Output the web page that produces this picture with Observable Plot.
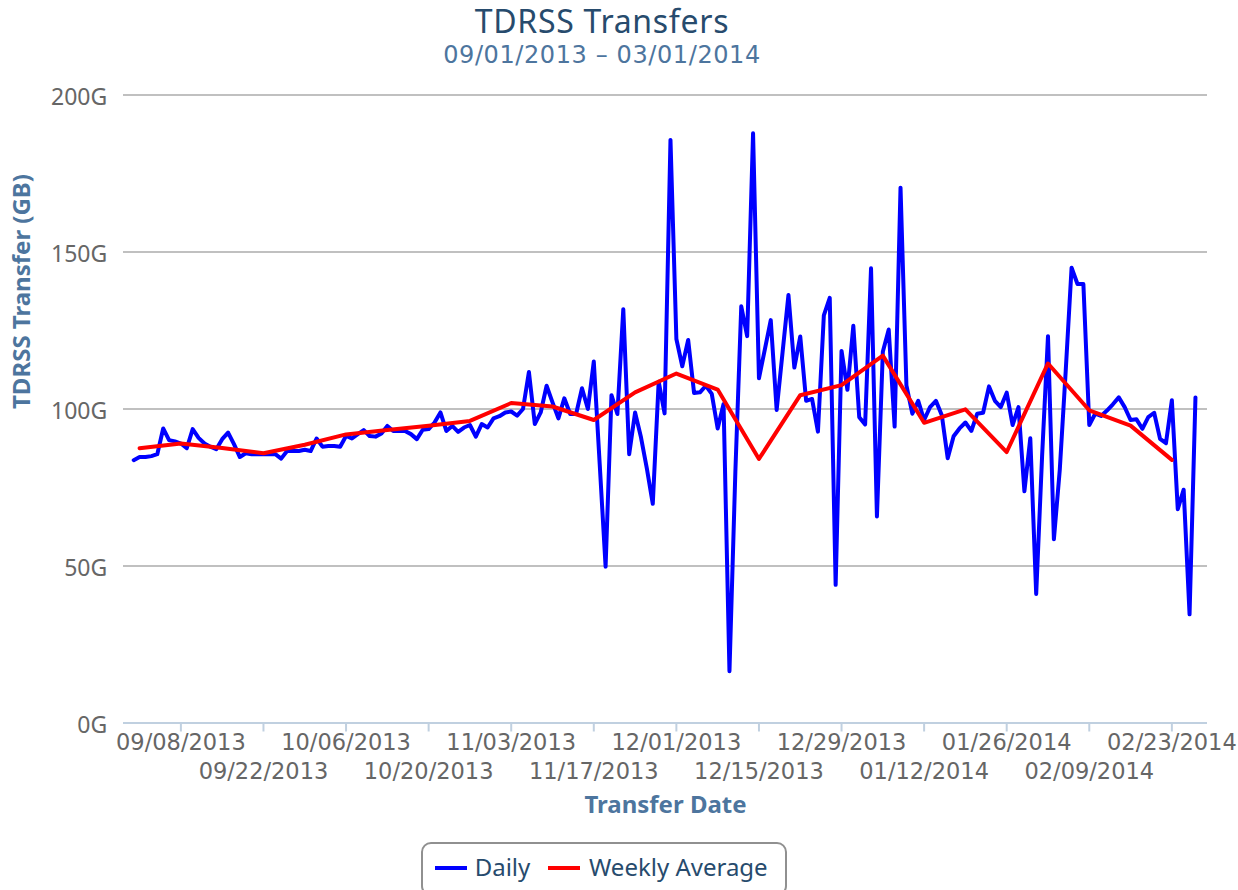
<!DOCTYPE html>
<html>
<head>
<meta charset="utf-8">
<script src="https://cdn.jsdelivr.net/npm/d3@7"></script>
<script src="https://cdn.jsdelivr.net/npm/@observablehq/plot@0.6"></script>
<style>
  html, body { margin: 0; padding: 0; background: #ffffff; }
  #wrap { position: relative; width: 1238px; height: 890px; overflow: hidden; font-family: "Noto Sans", sans-serif; }
  .abs { position: absolute; white-space: nowrap; }
  #title { left: 0; width: 1204px; text-align: center; top: 4.6px; font-size: 32px; line-height: 32px; color: #274b6d; letter-spacing: 0.7px; }
  #subtitle { left: 0; width: 1204px; text-align: center; top: 42.7px; font-family: "DejaVu Sans", sans-serif; font-size: 24px; line-height: 24px; color: #4d759e; letter-spacing: 0.6px; }
  #chart { left: 0; top: 70px; }
  #legendBox { left: 420.7px; top: 841.7px; width: 366.6px; height: 54px; box-sizing: border-box; border: 2px solid #909090; border-radius: 10px; background: #fff; }
  .sw { height: 4px; width: 32px; top: 865.7px; }
  .lt { font-size: 24px; line-height: 24px; color: #274b6d; top: 855.4px; }
</style>
</head>
<body>
<div id="wrap">
  <div id="title" class="abs">TDRSS Transfers</div>
  <div id="subtitle" class="abs">09/01/2013 – 03/01/2014</div>
  <div id="chart" class="abs"></div>
  <div id="legendBox" class="abs"></div>
  <div class="abs sw" style="left:435px;background:#0000ff"></div>
  <div class="abs lt" style="left:474.7px">Daily</div>
  <div class="abs sw" style="left:548.3px;background:#ff0000"></div>
  <div class="abs lt" style="left:589px">Weekly Average</div>
</div>
<script>
// ---- data ----
const dailyStart = "2013-08-31";
const dailyValues = [
  83.7,84.7,84.7,85,85.6,93.8,90.1,89.7,89,87.5,
  93.6,90.8,89,88,87.2,90.4,92.5,88.8,84.7,85.9,
  85.6,85.6,85.6,85.6,85.6,84.2,86.6,86.6,86.6,87,
  86.6,90.6,88,88.2,88.2,88,91.4,90.6,92,93.3,
  91.4,91.2,92.2,94.6,93,93,93,92,90.4,93.4,
  93.6,95.7,98.9,93,94.6,92.7,94.1,94.9,91.2,95.2,
  94.1,97,97.7,98.9,99.2,97.9,100,111.8,95.2,98.9,
  107.4,102.1,97,103.4,98.4,98.4,106.6,100,115.1,82.5,
  49.8,104.4,98.4,131.8,85.6,98.9,91,81,69.8,108.7,
  98.6,185.7,122.3,113.6,122,105.1,105.3,107.4,104.8,93.8,
  101.6,16.5,80,132.7,123.2,187.8,109.8,119,128.3,99.7,
  118,136.3,113.2,123.1,102.6,103.2,92.8,129.8,135.4,44,
  118.5,106.1,126.5,97.4,95.1,144.8,65.8,118.2,125.3,94.4,
  170.5,107.5,98.5,102.6,96.5,100.6,102.6,98,84.3,91.3,
  93.8,95.7,93,98.5,98.8,107.2,102.6,100.6,105.2,94.9,
  100.6,73.8,90.7,41.1,85,123.2,58.5,80.7,112,145,
  139.8,139.8,94.9,98.5,97.8,99.5,101.5,103.7,100.6,96.5,
  96.7,93.7,97.4,98.8,90.5,89.1,102.8,68.1,74.3,34.6,
  103.7
];
const weeklyStart = "2013-09-01";
const weeklyValues = [
  87.5,89.0,87.6,85.9,88.6,91.9,93.3,94.7,96.2,101.9,
  100.8,96.5,105.3,111.3,106.2,84.1,104.4,107.6,117.0,95.6,
  99.9,86.3,114.5,99.6,94.7,83.8
];
const xTickDates = [
  "2013-09-08","2013-09-22","2013-10-06","2013-10-20","2013-11-03","2013-11-17",
  "2013-12-01","2013-12-15","2013-12-29","2014-01-12","2014-01-26","2014-02-09","2014-02-23"
];
const yTicks = [0, 50, 100, 150, 200];
const xDomain = ["2013-08-29T06:30Z", "2014-03-01T01:00Z"];

// ---- build rows ----
const d0 = new Date(dailyStart);
const w0 = new Date(weeklyStart);
const daily = dailyValues.map((v, i) => ({date: d3.utcDay.offset(d0, i), value: v}));
const weekly = weeklyValues.map((v, i) => ({date: d3.utcDay.offset(w0, 7 * i), value: v}));
const ticks = xTickDates.map(s => new Date(s));
const evenTicks = ticks.filter((t, i) => i % 2 === 0);
const oddTicks = ticks.filter((t, i) => i % 2 === 1);
const fmt = d3.utcFormat("%m/%d/%Y");

const xAxisCommon = {
  anchor: "bottom", tickSize: 9, stroke: "#C0D0E0", strokeWidth: 2, fill: "#666666",
  fontSize: 22.5, fontFamily: "DejaVu Sans, sans-serif", tickFormat: fmt, label: null
};

const chart = Plot.plot({
  width: 1238,
  height: 760,
  marginLeft: 123,
  marginRight: 31,
  marginTop: 24.5,
  marginBottom: 107.5,
  style: {fontFamily: "'Noto Sans', sans-serif", fontSize: "22px", background: "transparent", overflow: "visible"},
  x: {type: "utc", domain: xDomain.map(s => new Date(s)), label: null},
  y: {domain: [0, 200], label: null},
  marks: [
    Plot.gridY(yTicks.filter(v => v > 0), {stroke: "#C0C0C0", strokeOpacity: 1, strokeWidth: 2}),
    Plot.ruleY([0], {stroke: "#C0D0E0", strokeWidth: 2}),
    Plot.axisX(evenTicks, {...xAxisCommon, tickPadding: 1.8}),
    Plot.axisX(oddTicks, {...xAxisCommon, tickPadding: 31.5}),
    Plot.axisY(yTicks, {anchor: "left", tickSize: 0, tickPadding: 16.3, fill: "#666666", fontSize: 23,
      fontFamily: "'Noto Sans', sans-serif", tickFormat: d => d + "G", dy: 3, label: null}),
    Plot.text(["TDRSS Transfer (GB)"], {text: d => d, frameAnchor: "left", lineAnchor: "middle", dx: -101, rotate: -90,
      fontSize: 24, fontWeight: "bold", fill: "#4d759e", fontFamily: "'Noto Sans', sans-serif"}),
    Plot.text(["Transfer Date"], {text: d => d, frameAnchor: "bottom", lineAnchor: "middle", dy: 82.8,
      fontSize: 24, fontWeight: "bold", fill: "#4d759e", fontFamily: "'Noto Sans', sans-serif"}),
    Plot.line(daily, {x: "date", y: "value", stroke: "#0000ff", strokeWidth: 4}),
    Plot.line(weekly, {x: "date", y: "value", stroke: "#ff0000", strokeWidth: 4})
  ]
});
document.getElementById("chart").appendChild(chart);
</script>
</body>
</html>
